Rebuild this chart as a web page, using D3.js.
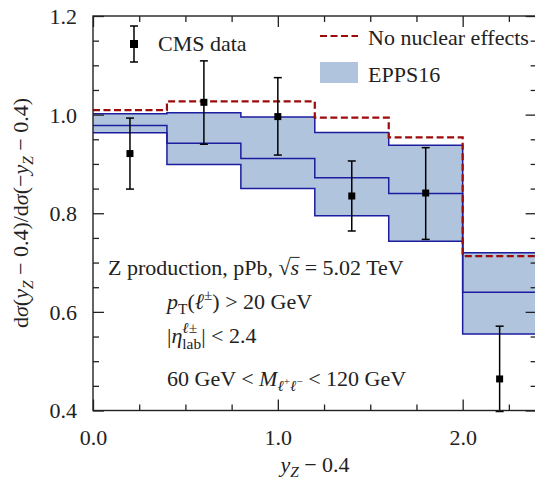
<!DOCTYPE html>
<html>
<head>
<meta charset="utf-8">
<script src="https://cdn.jsdelivr.net/npm/d3@7"></script>
<style>
  html, body { margin: 0; padding: 0; background: #fff; }
  svg { display: block; }
</style>
</head>
<body>
<svg id="chart" width="535" height="482"></svg>
<script>
// Bin edges in y_Z - 0.4 and per-bin ratios
const binEdges = [0.0, 0.4, 0.8, 1.2, 1.6, 2.0, 2.4];
const eppsCentral = [0.978, 0.942, 0.911, 0.872, 0.840, 0.640];
const eppsUpper   = [1.002, 1.004, 0.995, 0.964, 0.938, 0.720];
const eppsLower   = [0.963, 0.899, 0.850, 0.795, 0.743, 0.555];
const noNuclear   = [1.009, 1.027, 1.027, 0.994, 0.954, 0.713];

// CMS measurement: bin centres, values and error-bar ends
const cmsX    = [0.2, 0.6, 1.0, 1.4, 1.8, 2.2];
const cmsY    = [0.921, 1.025, 0.996, 0.835, 0.841, 0.464];
const cmsLow  = [0.849, 0.940, 0.918, 0.764, 0.747, 0.398];
const cmsHigh = [0.993, 1.109, 1.075, 0.906, 0.933, 0.571];

// Axis ticks
const xMajorTicks = [0.0, 1.0, 2.0];
const xMajorLabels = ["0.0", "1.0", "2.0"];
const xMinorTicks = [0.25, 0.5, 0.75, 1.25, 1.5, 1.75, 2.25];
const yMajorTicks = [0.4, 0.6, 0.8, 1.0, 1.2];
const yMajorLabels = ["0.4", "0.6", "0.8", "1.0", "1.2"];
const yMinorTicks = [0.45, 0.5, 0.55, 0.65, 0.7, 0.75, 0.85, 0.9, 0.95, 1.05, 1.1, 1.15];

const FONT = "Liberation Serif, Tinos, DejaVu Serif, Noto Serif, serif";
const FS = 22;
const INK = "#222";
const BAND_FILL = "#b0c4de";
const BAND_LINE = "#1c1c9e";
const DASH_COLOR = "#9c0a0a";

const svg = d3.select("#chart").style("font-family", FONT);
const x = d3.scaleLinear().domain([0, 2.4]).range([93, 536.6]);
const y = d3.scaleLinear().domain([0.4, 1.2]).range([410.5, 16]);

// step helpers: one point per bin edge, last value repeated
const stepPts = vals => binEdges.map((e, i) => [e, vals[Math.min(i, vals.length - 1)]]);
const stepLine = d3.line().x(d => x(d[0])).y(d => y(d[1])).curve(d3.curveStepAfter);
const stepArea = d3.area()
  .x(d => x(d[0])).y0(d => y(d[1])).y1(d => y(d[2]))
  .curve(d3.curveStepAfter);

const plot = svg.append("g");

// EPPS16 uncertainty band
const bandPts = binEdges.map((e, i) => {
  const k = Math.min(i, eppsUpper.length - 1);
  return [e, eppsLower[k], eppsUpper[k]];
});
plot.append("path").attr("d", stepArea(bandPts)).attr("fill", BAND_FILL);

[eppsUpper, eppsCentral, eppsLower].forEach(vals => {
  plot.append("path").attr("d", stepLine(stepPts(vals)))
    .attr("fill", "none").attr("stroke", BAND_LINE).attr("stroke-width", 1.5);
});

// no nuclear effects baseline
plot.append("path").attr("d", stepLine(stepPts(noNuclear)))
  .attr("fill", "none").attr("stroke", DASH_COLOR).attr("stroke-width", 2.2)
  .attr("stroke-dasharray", "7,3.5");

// CMS data with error bars
const cms = cmsX.map((v, i) => ({ x: v, y: cmsY[i], lo: cmsLow[i], hi: cmsHigh[i] }));
const capW = 4;
const pts = plot.append("g");
cms.forEach(d => {
  const cx = x(d.x);
  pts.append("line").attr("x1", cx).attr("x2", cx).attr("y1", y(d.lo)).attr("y2", y(d.hi))
    .attr("stroke", "#000").attr("stroke-width", 1.5);
  [d.lo, d.hi].forEach(v => {
    pts.append("line").attr("x1", cx - capW).attr("x2", cx + capW).attr("y1", y(v)).attr("y2", y(v))
      .attr("stroke", "#000").attr("stroke-width", 1.5);
  });
  pts.append("rect").attr("x", cx - 3.5).attr("y", y(d.y) - 3.5).attr("width", 7).attr("height", 7)
    .attr("fill", "#000");
});

// axes with inward ticks
function drawAxis(axisFn, transform, ticks, len, labels) {
  const a = axisFn.tickValues(ticks).tickSizeInner(-len).tickSizeOuter(0)
    .tickFormat(labels ? (d, i) => labels[i] : () => "");
  const g = svg.append("g").attr("transform", transform).call(a)
    .attr("font-family", FONT).attr("font-size", FS);
  g.select(".domain").remove();
  g.selectAll(".tick line").attr("stroke", INK).attr("stroke-width", 1.3);
  g.selectAll(".tick text").attr("fill", INK);
  return g;
}
const bottomY = y(0.4), topY = y(1.2), leftX = x(0), rightX = x(2.4);
const gxb = drawAxis(d3.axisBottom(x), `translate(0,${bottomY})`, xMajorTicks, 11, xMajorLabels);
gxb.selectAll(".tick text").attr("y", 0).attr("dy", "1.55em");
drawAxis(d3.axisBottom(x), `translate(0,${bottomY})`, xMinorTicks, 6);
drawAxis(d3.axisTop(x), `translate(0,${topY})`, xMajorTicks, 11);
drawAxis(d3.axisTop(x), `translate(0,${topY})`, xMinorTicks, 6);
const gyl = drawAxis(d3.axisLeft(y), `translate(${leftX},0)`, yMajorTicks, 11, yMajorLabels);
gyl.selectAll(".tick text").attr("x", -16).attr("dy", "0.34em");
drawAxis(d3.axisLeft(y), `translate(${leftX},0)`, yMinorTicks, 6);
drawAxis(d3.axisRight(y), `translate(${rightX},0)`, yMajorTicks, 11);
drawAxis(d3.axisRight(y), `translate(${rightX},0)`, yMinorTicks, 6);

// frame
svg.append("rect").attr("x", leftX).attr("y", topY)
  .attr("width", rightX - leftX).attr("height", bottomY - topY)
  .attr("fill", "none").attr("stroke", INK).attr("stroke-width", 1.4);

// inline math-like text: segments laid out left to right
function rich(parent, segs, size) {
  const g = parent.append("g");
  let cx = 0, lastStart = 0, lastW = 0;
  segs.forEach(s => {
    const fs = size * (s.scale || 1);
    if (s.sameX) cx = lastStart;
    const t = g.append("text").attr("x", cx).attr("y", s.shift || 0)
      .attr("font-family", FONT).attr("font-size", fs).attr("fill", INK)
      .attr("font-style", s.i ? "italic" : "normal")
      .style("white-space", "pre")
      .text(s.t);
    const w = t.node().getComputedTextLength();
    if (s.overline) {
      g.append("line").attr("x1", cx - 0.5).attr("x2", cx + w + 0.5)
        .attr("y1", -fs * 0.80).attr("y2", -fs * 0.80)
        .attr("stroke", INK).attr("stroke-width", 1);
    }
    if (s.sameX) {
      cx = lastStart + Math.max(lastW, w);
      lastW = Math.max(lastW, w);
    } else {
      lastStart = cx; lastW = w; cx += w;
    }
  });
  g.width = cx;
  return g;
}

// annotations
const notes = svg.append("g");
rich(notes, [
  { t: "Z production, pPb, " },
  { t: "\u221A" },
  { t: "s", i: true, overline: true },
  { t: " = 5.02 TeV" }
], FS).attr("transform", "translate(108,275)");
rich(notes, [
  { t: "p", i: true },
  { t: "T", scale: 0.7, shift: 5 },
  { t: "(" },
  { t: "\u2113", i: true },
  { t: "\u00B1", scale: 0.7, shift: -9 },
  { t: ") > 20 GeV" }
], FS).attr("transform", "translate(167,309)");
rich(notes, [
  { t: "|" },
  { t: "\u03B7", i: true },
  { t: "\u2113\u00B1", i: true, scale: 0.7, shift: -10 },
  { t: "lab", scale: 0.7, shift: 6, sameX: true },
  { t: "| < 2.4" }
], FS).attr("transform", "translate(167,343)");
rich(notes, [
  { t: "60 GeV < " },
  { t: "M", i: true },
  { t: "\u2113", i: true, scale: 0.7, shift: 5 },
  { t: "+", scale: 0.5, shift: -1 },
  { t: "\u2113", i: true, scale: 0.7, shift: 5 },
  { t: "\u2212", scale: 0.5, shift: -1 },
  { t: " < 120 GeV" }
], FS).attr("transform", "translate(167,386)");

// legend
const leg = svg.append("g");
leg.append("line").attr("x1", 134).attr("x2", 134).attr("y1", 26).attr("y2", 62)
  .attr("stroke", "#000").attr("stroke-width", 1.5);
[26, 62].forEach(v => leg.append("line").attr("x1", 130).attr("x2", 138).attr("y1", v).attr("y2", v)
  .attr("stroke", "#000").attr("stroke-width", 1.5));
leg.append("rect").attr("x", 130).attr("y", 40).attr("width", 8).attr("height", 8).attr("fill", "#000");
leg.append("text").attr("x", 158).attr("y", 51).attr("font-family", FONT).attr("font-size", FS)
  .attr("fill", INK).text("CMS data");

leg.append("line").attr("x1", 320).attr("x2", 358).attr("y1", 36).attr("y2", 36)
  .attr("stroke", DASH_COLOR).attr("stroke-width", 2.2).attr("stroke-dasharray", "7,3.5");
leg.append("text").attr("x", 368).attr("y", 45).attr("font-family", FONT).attr("font-size", FS)
  .attr("fill", INK).text("No nuclear effects");
leg.append("rect").attr("x", 320).attr("y", 62).attr("width", 38).attr("height", 21).attr("fill", BAND_FILL);
leg.append("text").attr("x", 368).attr("y", 81.5).attr("font-family", FONT).attr("font-size", FS)
  .attr("fill", INK).text("EPPS16");

// axis titles
const xt = rich(svg, [
  { t: "y", i: true },
  { t: "Z", i: true, scale: 0.7, shift: 5 },
  { t: " \u2212 0.4" }
], FS);
xt.attr("transform", `translate(${315 - xt.width / 2},472)`);

const yt = rich(svg, [
  { t: "d" }, { t: "\u03C3", i: true }, { t: "(" }, { t: "y", i: true },
  { t: "Z", i: true, scale: 0.7, shift: 5 },
  { t: " \u2212 0.4)/d" }, { t: "\u03C3", i: true }, { t: "(\u2212" }, { t: "y", i: true },
  { t: "Z", i: true, scale: 0.7, shift: 5 },
  { t: " \u2212 0.4)" }
], FS);
yt.attr("transform", `translate(28,${213 + yt.width / 2}) rotate(-90)`);
</script>
</body>
</html>
